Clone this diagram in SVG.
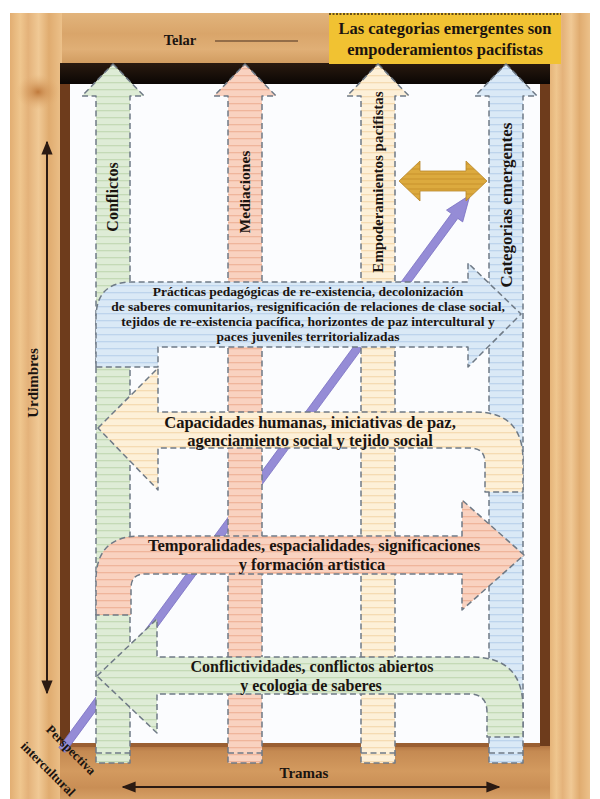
<svg xmlns="http://www.w3.org/2000/svg" width="600" height="799" viewBox="0 0 600 799">
<defs>
<style>
.t{font-family:"Liberation Serif","Times New Roman",serif;font-weight:bold;fill:#1a1410;text-anchor:middle}
.dash{stroke:#6f7a86;stroke-width:1.5;stroke-dasharray:6 3.5;stroke-linejoin:round}
</style>
<pattern id="pg" width="10" height="7" patternUnits="userSpaceOnUse"><rect width="10" height="7" fill="#deecd6"/><rect y="5" width="10" height="1.3" fill="#c4dab6"/></pattern>
<pattern id="pp" width="10" height="7" patternUnits="userSpaceOnUse"><rect width="10" height="7" fill="#f9d2c0"/><rect y="5" width="10" height="1.3" fill="#efb59b"/></pattern>
<pattern id="pc" width="10" height="7" patternUnits="userSpaceOnUse"><rect width="10" height="7" fill="#fdf0d8"/><rect y="5" width="10" height="1.3" fill="#f5dbb2"/></pattern>
<pattern id="pb" width="10" height="7" patternUnits="userSpaceOnUse"><rect width="10" height="7" fill="#dae9f6"/><rect y="5" width="10" height="1.3" fill="#bdd4ec"/></pattern>
<pattern id="py" width="10" height="5" patternUnits="userSpaceOnUse"><rect width="10" height="5" fill="#dcaa3e"/><rect y="3.5" width="10" height="1" fill="#c8932c"/></pattern>
<linearGradient id="woodV" x1="0" y1="0" x2="1" y2="0">
<stop offset="0" stop-color="#e2ae72"/><stop offset="0.2" stop-color="#efc68e"/><stop offset="0.35" stop-color="#e4b27a"/><stop offset="0.55" stop-color="#f0c995"/><stop offset="0.75" stop-color="#e0ac70"/><stop offset="1" stop-color="#ecc18a"/>
</linearGradient>
<linearGradient id="woodT" x1="0" y1="0" x2="0" y2="1">
<stop offset="0" stop-color="#e2b47c"/><stop offset="0.4" stop-color="#d9a56a"/><stop offset="0.7" stop-color="#e0af76"/><stop offset="1" stop-color="#cf9a5e"/>
</linearGradient>
<linearGradient id="woodB" x1="0" y1="0" x2="0" y2="1">
<stop offset="0" stop-color="#a96a3a"/><stop offset="0.15" stop-color="#c58a52"/><stop offset="0.5" stop-color="#d39a5f"/><stop offset="0.8" stop-color="#c98e55"/><stop offset="1" stop-color="#d6a066"/>
</linearGradient>
<linearGradient id="black" x1="0" y1="0" x2="0" y2="1">
<stop offset="0" stop-color="#2a1a0f"/><stop offset="1" stop-color="#0a0604"/>
</linearGradient>
<radialGradient id="knot" cx="0.5" cy="0.5" r="0.5">
<stop offset="0" stop-color="#c07a3c"/><stop offset="1" stop-color="#e2ae72" stop-opacity="0"/>
</radialGradient>
<marker id="ah" viewBox="0 0 10 10" refX="9" refY="5" markerWidth="7" markerHeight="7" orient="auto-start-reverse"><path d="M0,1 L10,5 L0,9 Z" fill="#2b1a12"/></marker>
</defs>

<rect width="600" height="799" fill="#ffffff"/>

<g id="frame">
<rect x="10" y="13" width="580" height="52" fill="url(#woodT)"/>
<rect x="10" y="13" width="52" height="786" fill="url(#woodV)"/>
<rect x="548" y="13" width="42" height="786" fill="url(#woodV)"/>
<ellipse cx="38" cy="92" rx="22" ry="18" fill="url(#knot)"/>
<rect x="60" y="743" width="490" height="56" fill="url(#woodB)"/>
<rect x="60" y="63" width="490" height="21" fill="url(#black)"/>
<rect x="60" y="84" width="10" height="662" fill="#6e3c1c"/>
<rect x="540" y="84" width="10" height="662" fill="#6e3c1c"/>
<rect x="70" y="84" width="470" height="659" fill="#fbfcfe"/>
<rect x="70" y="743" width="470" height="4" fill="#9a5f32"/>
</g>

<g id="telar">
<text class="t" x="180" y="45" font-size="14.5">Telar</text>
<line x1="215" y1="41" x2="298" y2="41" stroke="#4a3020" stroke-width="1.2"/>
</g>

<g id="title-box">
<rect x="329" y="13" width="232" height="51" fill="#f1c232"/>
<line x1="329" y1="14" x2="561" y2="14" stroke="#3a2a10" stroke-width="1.5" stroke-dasharray="2 1.5"/>
<text class="t" x="445" y="34" font-size="16.5">Las categorias emergentes son</text>
<text class="t" x="445" y="55" font-size="16.5">empoderamientos pacifistas</text>
</g>

<g id="purple-arrow">
<polygon points="58.8,747.6 451.4,213.6 446.5,210.1 470,195 462.7,221.9 457.8,218.4 65.2,752.4" fill="#958cd6" stroke="#7a71c2" stroke-width="0.8"/>
</g>

<g id="warp-conflictos">
<path class="dash" d="M113,64 L144,96 L130,96 L130,763 L96,763 L96,96 L82,96 Z" fill="url(#pg)"/>
<line class="dash" x1="96" y1="753" x2="130" y2="753" stroke="#5b7fb0"/>
<text class="t" font-size="16" transform="translate(118,197) rotate(-90)">Conflictos</text>
</g>
<g id="warp-mediaciones">
<path class="dash" d="M245,64 L276,96 L262,96 L262,763 L228,763 L228,96 L214,96 Z" fill="url(#pp)"/>
<line class="dash" x1="228" y1="753" x2="262" y2="753" stroke="#5b7fb0"/>
<text class="t" font-size="15.5" transform="translate(250,192) rotate(-90)">Mediaciones</text>
</g>
<g id="warp-empoderamientos">
<path class="dash" d="M378,64 L409,96 L395,96 L395,763 L361,763 L361,96 L347,96 Z" fill="url(#pc)"/>
<line class="dash" x1="361" y1="753" x2="395" y2="753" stroke="#5b7fb0"/>
<text class="t" font-size="15" transform="translate(383,182) rotate(-90)">Empoderamientos pacifistas</text>
</g>
<g id="warp-categorias">
<path class="dash" d="M506,64 L537,96 L523,96 L523,763 L489,763 L489,96 L475,96 Z" fill="url(#pb)"/>
<line class="dash" x1="489" y1="753" x2="523" y2="753" stroke="#5b7fb0"/>
<text class="t" font-size="17" transform="translate(512,205) rotate(-90)">Categorias emergentes</text>
</g>

<g id="gold-arrow">
<path d="M399,181 L420,161 L420,171 L466,171 L466,161 L487,181 L466,201 L466,191 L420,191 L420,201 Z" fill="url(#py)" stroke="#b8862a" stroke-width="0.8"/>
</g>

<g id="weft-practicas">
<path class="dash" d="M96,367 L96,318 Q96,282 132,282 L468,282 L468,263 L521,314 L468,367 L468,347 L158,347 L158,367 Z" fill="url(#pb)"/>
<text class="t" font-size="13.5" x="308" y="296">Prácticas pedagógicas de re-existencia, decolonización</text>
<text class="t" font-size="13.5" x="308" y="311">de saberes comunitarios, resignificación de relaciones de clase social,</text>
<text class="t" font-size="13.5" x="308" y="326">tejidos de re-existencia pacífica, horizontes de paz intercultural y</text>
<text class="t" font-size="13.5" x="308" y="341">paces juveniles territorializadas</text>
</g>

<g id="weft-capacidades">
<path class="dash" d="M98,428 L158,368 L158,412 L475,412 Q523,412 523,460 L523,492 L485,492 L485,463 Q485,448 470,448 L158,448 L158,490 Z" fill="url(#pc)"/>
<text class="t" font-size="16.5" x="310" y="428">Capacidades humanas, iniciativas de paz,</text>
<text class="t" font-size="16.5" x="310" y="446">agenciamiento social y tejido social</text>
</g>

<g id="weft-temporalidades">
<path class="dash" d="M96,615 L96,580 Q96,536 140,536 L462,536 L462,500 L524,555 L462,610 L462,574 L145,574 Q131,574 131,588 L131,615 Z" fill="url(#pp)"/>
<text class="t" font-size="16.5" x="314" y="551">Temporalidades, espacialidades, significaciones</text>
<text class="t" font-size="16.5" x="312" y="570">y formación artistica</text>
</g>

<g id="weft-conflictividades">
<path class="dash" d="M97,676 L157,619 L157,657 L472,657 Q523,657 523,708 L523,737 L487,737 L487,712 Q487,694 469,694 L157,694 L157,733 Z" fill="url(#pg)"/>
<text class="t" font-size="16" x="312" y="672">Conflictividades, conflictos abiertos</text>
<text class="t" font-size="16" x="311" y="691">y ecologia de saberes</text>
</g>

<g id="urdimbres">
<line x1="47" y1="142" x2="47" y2="693" stroke="#2b1a12" stroke-width="2" marker-start="url(#ah)" marker-end="url(#ah)"/>
<text class="t" font-size="15" transform="translate(38,383) rotate(-90)">Urdimbres</text>
</g>

<g id="tramas">
<text class="t" font-size="15" x="304" y="778">Tramas</text>
<line x1="123" y1="787" x2="499" y2="787" stroke="#2b1a12" stroke-width="2" marker-start="url(#ah)" marker-end="url(#ah)"/>
</g>

<g id="perspectiva">
<text class="t" font-size="13" transform="translate(68,753) rotate(45)">Perspectiva</text>
<text class="t" font-size="13" transform="translate(45,772) rotate(45)">intercultural</text>
</g>
</svg>
